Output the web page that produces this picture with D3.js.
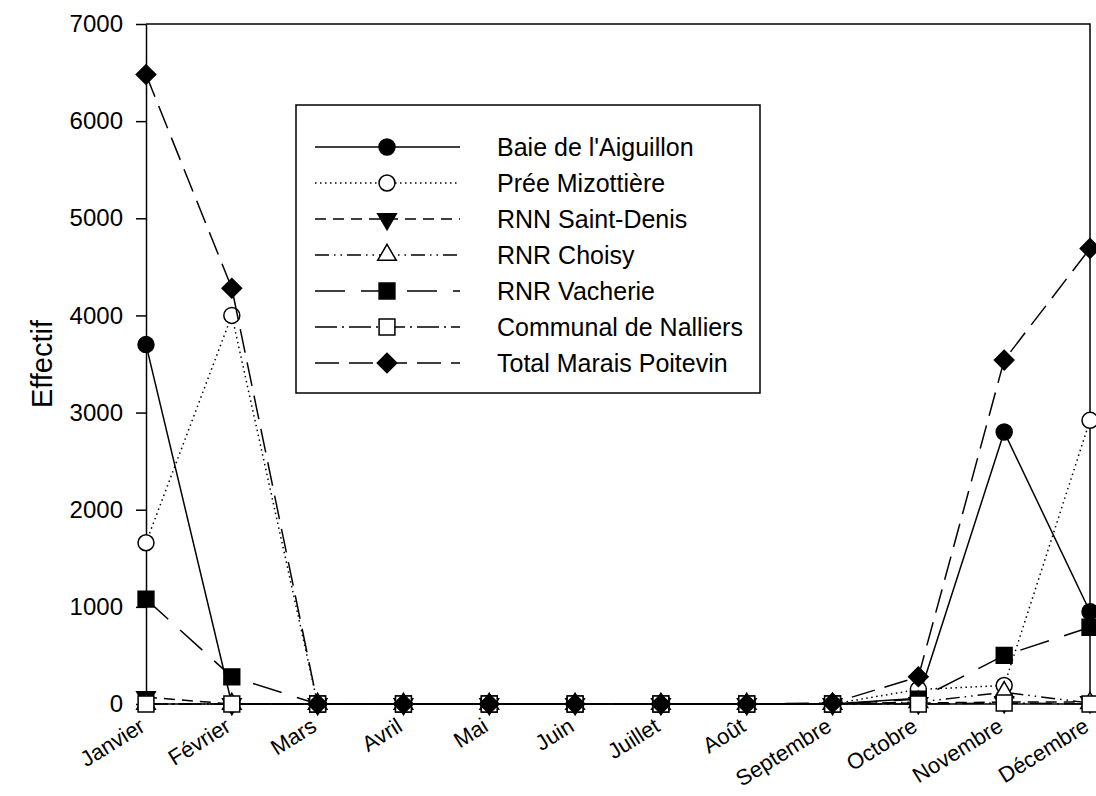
<!DOCTYPE html>
<html>
<head>
<meta charset="utf-8">
<script src="https://cdn.jsdelivr.net/npm/d3@7"></script>
<style>
  body { margin: 0; background: #fff; }
  svg text { font-family: "Liberation Sans", Arial, sans-serif; fill: #000; }
</style>
</head>
<body>
<div class="svg-div"></div>
<script>
// months on the x axis
var months = ["Janvier", "Février", "Mars", "Avril", "Mai", "Juin", "Juillet",
              "Août", "Septembre", "Octobre", "Novembre", "Décembre"];
var yTicks = [0, 1000, 2000, 3000, 4000, 5000, 6000, 7000];

// series values, one per month
var baie      = [3700, 0, 0, 0, 0, 0, 0, 0, 0, 60, 2800, 950];
var pree      = [1660, 4000, 0, 0, 0, 0, 0, 0, 0, 150, 190, 2920];
var stDenis   = [70, 0, 0, 0, 0, 0, 0, 0, 0, 10, 20, 20];
var choisy    = [0, 0, 0, 0, 0, 0, 0, 0, 0, 20, 120, 10];
var vacherie  = [1080, 280, 0, 0, 0, 0, 0, 0, 0, 50, 500, 790];
var communal  = [0, 0, 0, 0, 0, 0, 0, 0, 0, 0, 10, 0];
var total     = [6480, 4280, 0, 0, 0, 0, 0, 0, 10, 280, 3540, 4690];

var seriesNames = ["Baie de l'Aiguillon", "Prée Mizottière", "RNN Saint-Denis",
                   "RNR Choisy", "RNR Vacherie", "Communal de Nalliers", "Total Marais Poitevin"];

// line / marker style per series
var series = [
  { name: seriesNames[0], values: baie,     dash: null,          sym: d3.symbolCircle,   size: 200, fill: "#000", rot: 0 },
  { name: seriesNames[1], values: pree,     dash: "1.5,3.5",     sym: d3.symbolCircle,   size: 200, fill: "#fff", rot: 0 },
  { name: seriesNames[2], values: stDenis,  dash: "11,7",        sym: d3.symbolTriangle, size: 150, fill: "#000", rot: 180 },
  { name: seriesNames[3], values: choisy,   dash: "14,5,1.5,5,1.5,5", sym: d3.symbolTriangle, size: 150, fill: "#fff", rot: 0 },
  { name: seriesNames[4], values: vacherie, dash: "30,16",       sym: d3.symbolSquare,   size: 250, fill: "#000", rot: 0 },
  { name: seriesNames[5], values: communal, dash: "22,5,2,5",    sym: d3.symbolSquare,   size: 250, fill: "#fff", rot: 0 },
  { name: seriesNames[6], values: total,    dash: "24,10",       sym: d3.symbolSquare,   size: 190, fill: "#000", rot: 45 }
];

var w = 1096;
var h = 796;
var mLeft = 146, mRight = 1090, mTop = 24, mBottom = 704;

var svg = d3.select(".svg-div")
  .append("svg")
  .attr("width", w)
  .attr("height", h);

var x = d3.scalePoint().domain(months).range([mLeft, mRight]);
var y = d3.scaleLinear().domain([0, 7000]).range([mBottom, mTop]);

// frame (top and right)
svg.append("path")
  .attr("d", "M" + mLeft + "," + mTop + "H" + mRight + "V" + mBottom)
  .attr("fill", "none")
  .attr("stroke", "#000")
  .attr("stroke-width", 1.5);

// y axis
var yAxis = svg.append("g")
  .attr("transform", "translate(" + mLeft + ",0)")
  .call(d3.axisLeft(y).tickValues(yTicks).tickSize(10).tickPadding(13).tickSizeOuter(0)
        .tickFormat(d3.format("d")));
yAxis.selectAll("text").style("font-size", "24px");
yAxis.selectAll("line, path").attr("stroke-width", 1.5);

// x axis
var xAxis = svg.append("g")
  .attr("transform", "translate(0," + mBottom + ")")
  .call(d3.axisBottom(x).tickSize(6).tickSizeOuter(0));
xAxis.select("path").attr("d", "M" + mLeft + ",0H" + mRight).attr("stroke-width", 1.5);
xAxis.selectAll("line").attr("stroke-width", 1.5);
xAxis.selectAll("text")
  .style("font-size", "22px")
  .attr("text-anchor", "end")
  .attr("dy", null)
  .attr("y", 0)
  .attr("transform", "translate(0,26) rotate(-32)");

// y label
svg.append("text")
  .attr("transform", "translate(52," + ((mTop + mBottom) / 2) + ") rotate(-90)")
  .attr("text-anchor", "middle")
  .style("font-size", "29px")
  .text("Effectif");

var line = d3.line()
  .x(function(d, i) { return x(months[i]); })
  .y(function(d) { return y(d); });

// lines and markers
series.forEach(function(s) {
  var g = svg.append("g");
  g.append("path")
    .datum(s.values)
    .attr("d", line)
    .attr("fill", "none")
    .attr("stroke", "#000")
    .attr("stroke-width", 1.5)
    .attr("stroke-dasharray", s.dash);
  g.selectAll("path.mark")
    .data(s.values)
    .enter()
    .append("path")
    .attr("class", "mark")
    .attr("d", d3.symbol().type(s.sym).size(s.size))
    .attr("transform", function(d, i) {
      return "translate(" + x(months[i]) + "," + y(d) + ") rotate(" + s.rot + ")";
    })
    .attr("fill", s.fill)
    .attr("stroke", "#000")
    .attr("stroke-width", 1.5);
});

// legend
var lg = svg.append("g");
lg.append("rect")
  .attr("x", 296).attr("y", 105)
  .attr("width", 464).attr("height", 288)
  .attr("fill", "#fff")
  .attr("stroke", "#000")
  .attr("stroke-width", 1.5);

var rows = lg.selectAll("g.row")
  .data(series)
  .enter()
  .append("g")
  .attr("class", "row")
  .attr("transform", function(d, i) { return "translate(0," + (147 + i * 36) + ")"; });

rows.append("line")
  .attr("x1", 315).attr("x2", 460)
  .attr("stroke", "#000")
  .attr("stroke-width", 1.5)
  .attr("stroke-dasharray", function(d) { return d.dash; });

rows.append("path")
  .attr("d", function(d) { return d3.symbol().type(d.sym).size(d.size)(); })
  .attr("transform", function(d) { return "translate(387,0) rotate(" + d.rot + ")"; })
  .attr("fill", function(d) { return d.fill; })
  .attr("stroke", "#000")
  .attr("stroke-width", 1.5);

rows.append("text")
  .attr("x", 497)
  .attr("dy", "0.35em")
  .style("font-size", "25px")
  .text(function(d) { return d.name; });
</script>
</body>
</html>
